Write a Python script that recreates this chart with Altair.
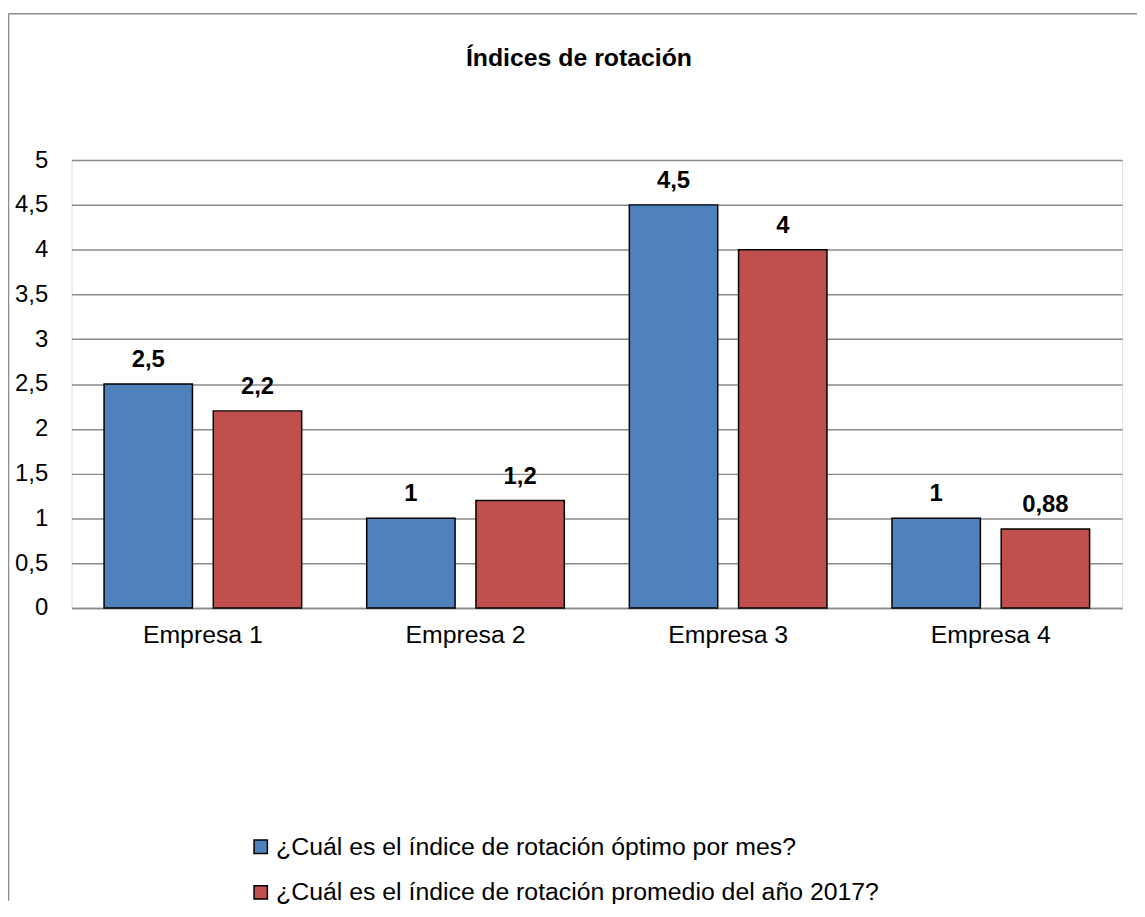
import altair as alt
import pandas as pd

titulo = "Índices de rotación"
empresas = ["Empresa 1", "Empresa 2", "Empresa 3", "Empresa 4"]
serie_optimo = [2.5, 1.0, 4.5, 1.0]
serie_promedio = [2.2, 1.2, 4.0, 0.88]
series = ["¿Cuál es el índice de rotación óptimo por mes?",
          "¿Cuál es el índice de rotación promedio del año 2017?"]
colores = ["#4F81BD", "#C0504D"]
y_ticks = [0, 0.5, 1, 1.5, 2, 2.5, 3, 3.5, 4, 4.5, 5]

rows = []
for i, e in enumerate(empresas):
    rows.append({"empresa": e, "serie": series[0], "orden": 0, "valor": serie_optimo[i]})
    rows.append({"empresa": e, "serie": series[1], "orden": 1, "valor": serie_promedio[i]})
df = pd.DataFrame(rows)

FONT = "Liberation Sans"
W, H = 1058, 451
PAD_L, PAD_T, PAD_R, PAD_B = 64, 150, 15, 295
GRID = "#8a8a8a"

x_enc = alt.X("empresa:N", sort=empresas, title=None,
              scale=alt.Scale(paddingInner=0.2476, paddingOuter=0.1238),
              axis=alt.Axis(labelAngle=0, labelFontSize=25, labelFont=FONT,
                            labelColor="#000000", labelPadding=15, ticks=False,
                            domain=True, domainColor=GRID, domainWidth=1.5))
xoff = alt.XOffset("orden:O", scale=alt.Scale(paddingInner=0.1909, paddingOuter=0))
y_enc = alt.Y("valor:Q", title=None,
              scale=alt.Scale(domain=[0, 5], nice=False),
              axis=alt.Axis(values=y_ticks, labelFontSize=24, labelFont=FONT,
                            labelColor="#000000", labelPadding=24, ticks=False,
                            tickSize=0, domain=False, grid=True, gridColor=GRID,
                            gridWidth=1.5,
                            labelExpr="replace(format(datum.value, '~g'), '.', ',')"))

bars = alt.Chart(df).mark_bar(stroke="#000000", strokeWidth=1.5).encode(
    x=x_enc, xOffset=xoff, y=y_enc,
    color=alt.Color("serie:N", sort=series, title=None,
                    scale=alt.Scale(domain=series, range=colores),
                    legend=alt.Legend(orient="none", legendX=178, legendY=679,
                                      direction="vertical", symbolType="square",
                                      symbolSize=180, symbolStrokeColor="#000000",
                                      symbolStrokeWidth=1.5, labelFontSize=25,
                                      labelFont=FONT, labelColor="#000000",
                                      rowPadding=20, labelOffset=3, labelLimit=1000)),
)

labels = alt.Chart(df).transform_calculate(
    etiqueta="replace(format(datum.valor, '~g'), '.', ',')"
).mark_text(font=FONT, fontSize=24, fontWeight="bold", color="#000000",
            baseline="alphabetic", dy=-17).encode(
    x=alt.X("empresa:N", sort=empresas), xOffset=alt.XOffset("orden:O"),
    y=alt.Y("valor:Q"), text="etiqueta:N")

title_df = pd.DataFrame({"t": [titulo]})
title_mark = alt.Chart(title_df).mark_text(
    font=FONT, fontSize=25, fontWeight="bold", color="#000000",
    align="center", baseline="alphabetic").encode(
    x=alt.value(511), y=alt.value(-95), text="t:N")

border_df = pd.DataFrame({"k": [0]})
left_border = alt.Chart(border_df).mark_rule(color="#8c8c8c", strokeWidth=1.5).encode(
    x=alt.value(-63.5), y=alt.value(-147.5), y2=alt.value(H + PAD_B))
top_border = alt.Chart(border_df).mark_rule(color="#8c8c8c", strokeWidth=1.5).encode(
    x=alt.value(-63.5), x2=alt.value(W + PAD_R), y=alt.value(-147.5))

chart = alt.layer(bars, labels, title_mark, left_border, top_border).properties(
    width=W, height=H,
    padding={"left": PAD_L, "top": PAD_T, "right": PAD_R, "bottom": PAD_B},
    autosize=alt.AutoSizeParams(type="none"),
).configure_view(stroke=None).configure(background="#ffffff")

chart.save("out.html", embed_options={"renderer": "svg", "actions": False})
